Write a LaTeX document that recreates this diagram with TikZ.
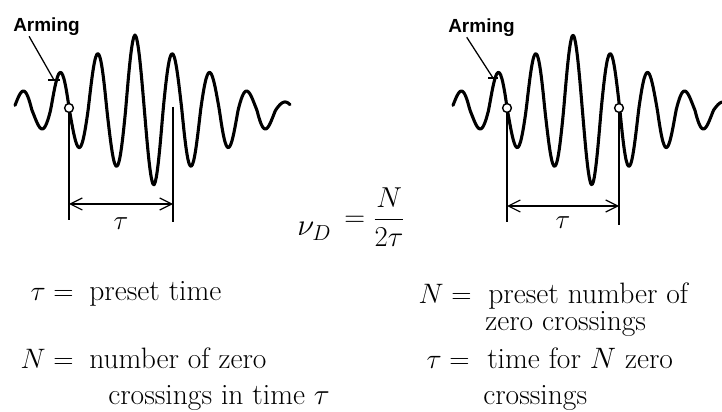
\RequirePackage{fix-cm}
\documentclass[tikz,border=0pt]{standalone}
\usepackage{amsmath}
\usepackage{fontspec}
\newfontfamily\armfont{Liberation Sans}
\usepackage{tikz}
\usetikzlibrary{calc,arrows.meta}
\tikzset{
  wave/.style={line width=2.2pt,black,line join=round,line cap=round},
  vline/.style={line width=1.4pt,black},
  dimarrow/.style={{Straight Barb[length=3mm,width=3mm]}-{Straight Barb[length=3mm,width=3mm]},line width=0.8pt},
  zc/.style={circle,draw=black,fill=white,line width=1pt,minimum size=2.2mm,inner sep=0pt},
  armlbl/.style={font=\armfont\bfseries\fontsize{13.5}{16}\selectfont,inner sep=0pt,anchor=base west},
  lead/.style={line width=0.9pt,black},
  txt/.style={font=\fontsize{21}{25}\selectfont,anchor=base west,inner sep=0pt},
  eqn/.style={font=\fontsize{20}{24}\selectfont,anchor=base east,inner sep=0pt},
}

\begin{document}
\begin{tikzpicture}[x=0.025cm,y=-0.025cm,
  declare function={up(\u)=max(75-0.5*abs(\u-135),8); dn(\u)=max(75-0.5*abs(\u-153.75),8);
    wv(\u)=cos(9.6*(\u-135))*(cos(9.6*(\u-135))>=0 ? up(\u) : dn(\u));}]
  \useasboundingbox (0,0) rectangle (722,412);
  % two bursts, the right one shifted by 438 (period 37.5, so 9.6 deg per unit)
  \draw[wave] plot[domain=15:290,samples=260,smooth] (\x,{110-wv(\x)});
  \draw[wave] plot[domain=453:722,samples=260,smooth] (\x,{110-wv(\x-438)});
  % arming labels
  \node[armlbl](armL) at (13,32){Arming};
  \node[armlbl](armR) at (448,33){Arming};
  \coordinate (ptL) at (54,80); \coordinate (ptR) at (493,78);
  \draw[lead] ($(armL.south west)!0.24!(armL.south east)$) -- (ptL);
  \draw[lead] ($(armR.south west)!0.28!(armR.south east)$) -- (ptR);
  \draw[lead] ($(ptL)+(-6,0)$) -- ($(ptL)+(6,0)$);
  \draw[lead] ($(ptR)+(-5,0)$) -- ($(ptR)+(5,0)$);
  % zero crossings and gates
  \node[zc](zL) at (69,108){}; \node[zc](zR1) at (507,108){}; \node[zc](zR2) at (619,108){};
  \coordinate (tL2) at (173,107);
  \coordinate (bL1) at (69,220); \coordinate (bL2) at (173,222);
  \coordinate (bR1) at (507,222); \coordinate (bR2) at (619,225);
  \draw[vline] (zL)--(bL1); \draw[vline] (tL2)--(bL2);
  \draw[vline] (zR1)--(bR1); \draw[vline] (zR2)--(bR2);
  \coordinate (aL1) at (69,204); \coordinate (aL2) at (173,204);
  \coordinate (aR1) at (507,206); \coordinate (aR2) at (619,206);
  \draw[dimarrow] (aL1)--(aL2) node[midway,below=9pt,inner sep=0pt,font=\fontsize{19.5}{23}\selectfont](tauL){$\tau$};
  \draw[dimarrow] (aR1)--(aR2) node[midway,below=7pt,inner sep=0pt,font=\fontsize{19.5}{23}\selectfont](tauR){$\tau$};
  % formula
  \node[inner sep=0pt,anchor=base west,font=\fontsize{22}{26}\selectfont](nuD) at (297,236){$\nu_D$};
  \node[anchor=base west,inner sep=0pt,font=\fontsize{20.5}{24}\selectfont](nuFrac) at (344,227){$= \dfrac{N}{2\tau}$};
  % definitions
  \node[eqn](lhsL1) at (74,300){$\tau =$};
  \node[txt](defL1) at (89,300){preset time};
  \node[eqn](lhsL2) at (74,368){$N =$};
  \node[txt](defL2) at (89,368){number of zero};
  \node[txt](defL3) at (108,404){crossings in time $\tau$};
  \node[eqn](lhsR1) at (472,303){$N =$};
  \node[txt](defR1) at (488,303){preset number of};
  \node[txt](defR2) at (485,330){zero crossings};
  \node[eqn](lhsR2) at (470,368){$\tau =$};
  \node[txt](defR3) at (487,368){time for $N$ zero};
  \node[txt](defR4) at (483,404){crossings};
\end{tikzpicture}
\end{document}
